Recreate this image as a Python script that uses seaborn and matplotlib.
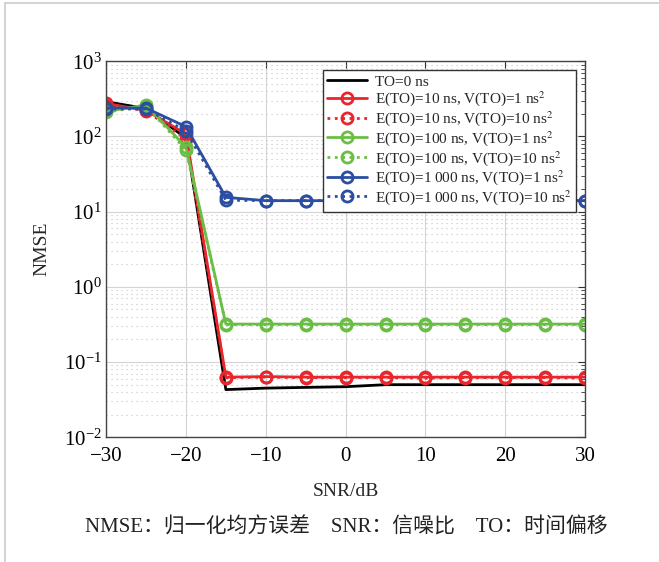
import numpy as np
import pandas as pd
import seaborn as sns
import matplotlib
matplotlib.use("Agg")
import matplotlib.pyplot as plt
from matplotlib.lines import Line2D
from matplotlib.ticker import LogLocator, NullFormatter

snr = [-30, -25, -20, -15, -10, -5, 0, 5, 10, 15, 20, 25, 30]

to0 = [290, 235, 95, 0.043, 0.045, 0.046, 0.047, 0.050, 0.050, 0.050, 0.050, 0.050, 0.050]
e10_v1 = [275, 222, 108, 0.063, 0.064, 0.063, 0.063, 0.063, 0.063, 0.063, 0.063, 0.063, 0.063]
e10_v10 = [265, 220, 92, 0.062, 0.063, 0.062, 0.062, 0.062, 0.061, 0.062, 0.062, 0.062, 0.061]
e100_v1 = [215, 262, 72, 0.32, 0.32, 0.32, 0.32, 0.32, 0.32, 0.32, 0.32, 0.32, 0.32]
e100_v10 = [210, 255, 66, 0.315, 0.315, 0.315, 0.315, 0.315, 0.315, 0.315, 0.315, 0.315, 0.315]
e1000_v1 = [240, 238, 135, 15.5, 14.0, 14.0, 14.0, 14.0, 14.0, 14.0, 14.0, 14.0, 14.0]
e1000_v10 = [232, 232, 118, 14.2, 14.0, 14.0, 14.0, 14.0, 14.0, 14.0, 14.0, 14.0, 14.0]

labels = [
    "TO=0 ns",
    "E(TO)=10 ns, V(TO)=1 ns$^2$",
    "E(TO)=10 ns, V(TO)=10 ns$^2$",
    "E(TO)=100 ns, V(TO)=1 ns$^2$",
    "E(TO)=100 ns, V(TO)=10 ns$^2$",
    "E(TO)=1\u2009000 ns, V(TO)=1 ns$^2$",
    "E(TO)=1\u2009000 ns, V(TO)=10 ns$^2$",
]
series = [to0, e10_v1, e10_v10, e100_v1, e100_v10, e1000_v1, e1000_v10]

RED = "#E8262B"
GREEN = "#6BBE45"
BLUE = "#2C4EA2"
styles = [
    dict(color="black", ls="-", marker=None),
    dict(color=RED, ls="-", marker="o"),
    dict(color=RED, ls=":", marker="o"),
    dict(color=GREEN, ls="-", marker="o"),
    dict(color=GREEN, ls=":", marker="o"),
    dict(color=BLUE, ls="-", marker="o"),
    dict(color=BLUE, ls=":", marker="o"),
]

sns.set_theme(style="white")
plt.rcParams["font.family"] = ["Liberation Serif", "Noto Sans CJK SC"]
plt.rcParams["mathtext.fontset"] = "stix"
plt.rcParams["axes.unicode_minus"] = True

fig = plt.figure(figsize=(6.59, 5.62), dpi=100)
ax = fig.add_axes([0.161, 0.222, 0.727, 0.669])

for lab, vals, st in zip(labels, series, styles):
    kw = dict(color=st["color"], linestyle=st["ls"], linewidth=2.0)
    if st["marker"]:
        kw.update(marker="o", markersize=8, markerfacecolor="none",
                  markeredgewidth=2.0, markeredgecolor=st["color"])
    sns.lineplot(x=snr, y=vals, ax=ax, label=lab, **kw)

ax.set_yscale("log")
ax.set_xlim(-30, 30)
ax.set_ylim(1e-2, 1e3)
ax.set_xticks([-30, -20, -10, 0, 10, 20, 30])
ax.yaxis.set_major_locator(LogLocator(base=10, numticks=10))
ax.yaxis.set_minor_locator(LogLocator(base=10, subs=np.arange(2, 10), numticks=10))
ax.yaxis.set_minor_formatter(NullFormatter())

ax.grid(True, which="major", axis="both", color="#d4d4d4", linewidth=0.8, linestyle="-")
ax.grid(True, which="minor", axis="y", color="#c4c4c4", linewidth=0.8, linestyle=(0, (1, 3.5)))

ax.tick_params(axis="both", which="both", direction="in", top=True, right=True,
               labelsize=15, colors="#333333", labelcolor="black")
ax.tick_params(axis="both", which="major", length=5, width=0.8)
ax.tick_params(axis="x", which="major", pad=7)
ax.tick_params(axis="y", which="major", pad=3)
ax.tick_params(axis="y", which="minor", length=3, width=0.6)
for s in ax.spines.values():
    s.set_color("#444444")
    s.set_linewidth(1.0)

ax.set_xlabel("SNR/dB", fontsize=14, labelpad=12)
ax.set_ylabel("NMSE", fontsize=14, labelpad=10)

leg = ax.legend(loc="upper right", fontsize=11, frameon=True, fancybox=False,
                edgecolor="#333333", framealpha=1, labelspacing=0.05,
                borderpad=0.3, handlelength=2.6, handletextpad=0.5,
                borderaxespad=0.6)
leg.get_frame().set_linewidth(1.0)

fig.text(0.525, 0.062, "NMSE：归一化均方误差　SNR：信噪比　TO：时间偏移",
         ha="center", va="center", fontsize=15, color="#222222", fontweight="light",
         family=["Liberation Serif", "Noto Sans CJK SC"])

fig.add_artist(Line2D([5 / 659, 1], [1 - 3 / 562, 1 - 3 / 562],
                      transform=fig.transFigure, color="#cccccc", linewidth=1.2))
fig.add_artist(Line2D([5 / 659, 5 / 659], [0, 1 - 3 / 562],
                      transform=fig.transFigure, color="#cccccc", linewidth=1.2))

fig.savefig("out.png", dpi=100)
